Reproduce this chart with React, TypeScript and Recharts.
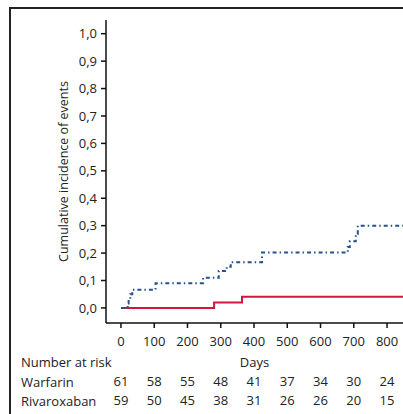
import React from 'react';
import { LineChart, Line, XAxis, YAxis } from 'recharts';

// step curves (day, cumulative incidence)
const warfarinDays = [0, 20, 23, 28, 34, 104, 247, 294, 318, 330, 424, 682, 688, 706, 712, 848];
const warfarinInc = [0, 0.016, 0.033, 0.05, 0.066, 0.09, 0.11, 0.135, 0.15, 0.167, 0.202, 0.222, 0.243, 0.27, 0.3, 0.3];
const rivaDays = [0, 280, 364, 848];
const rivaInc = [0, 0.02, 0.041, 0.041];

const dayTicks = [0, 100, 200, 300, 400, 500, 600, 700, 800];
const incTicks = [0, 0.1, 0.2, 0.3, 0.4, 0.5, 0.6, 0.7, 0.8, 0.9, 1.0];

// number at risk
const warfarinRisk = [61, 58, 55, 48, 41, 37, 34, 30, 24];
const rivaRisk = [59, 50, 45, 38, 31, 26, 26, 20, 15];

const warfarinData = warfarinDays.map((d, i) => ({ day: d, y: warfarinInc[i] }));
const rivaData = rivaDays.map((d, i) => ({ day: d, y: rivaInc[i] }));

const TXT = '#222';
const FS = 13;

function YLabel({ viewBox }: any) {
  const x = viewBox.x + 63;
  const y = viewBox.y + viewBox.height / 2;
  return (
    <text x={x} y={y} transform={`rotate(-90 ${x} ${y})`} textAnchor="middle" dominantBaseline="central" fill={TXT} fontSize={12.5}>
      Cumulative incidence of events
    </text>
  );
}

function DaysLabel({ viewBox }: any) {
  const y = viewBox.y + 39;
  return (
    <g>
      <text x={viewBox.x + viewBox.width / 2} y={y} textAnchor="middle" dominantBaseline="central" fill={TXT} fontSize={FS}>Days</text>
      <text x={21} y={y} textAnchor="start" dominantBaseline="central" fill={TXT} fontSize={FS}>Number at risk</text>
    </g>
  );
}

function RowLabel({ viewBox, text }: any) {
  return (
    <text x={21} y={viewBox.y + 11} textAnchor="start" dominantBaseline="central" fill={TXT} fontSize={FS}>{text}</text>
  );
}

const fmtInc = (v: number) => v.toFixed(1).replace('.', ',');

export default function App() {
  return (
    <div style={{ position: 'absolute', left: 0, top: 0, width: 403, height: 414, overflow: 'hidden', background: '#fff', fontFamily: '"Open Sans", sans-serif' }}>
      <div style={{ position: 'absolute', left: 9, top: 7, width: 420, height: 420, borderTop: '2px solid #222', borderLeft: '2px solid #222' }} />
      <div style={{ position: 'absolute', left: 0, top: 0 }}>
        <LineChart width={403} height={414} margin={{ top: 20, right: 0, left: 0, bottom: 5 }}>
          <YAxis
            type="number"
            domain={[-0.055, 1.05]}
            ticks={incTicks}
            tickFormatter={fmtInc}
            width={106}
            tickSize={5}
            tickMargin={4}
            allowDataOverflow
            stroke="#111"
            strokeWidth={1.5}
            tick={{ fill: TXT, fontSize: FS }}
            label={<YLabel />}
          />
          <XAxis
            dataKey="day"
            type="number"
            domain={[-45, 848]}
            ticks={dayTicks}
            height={48}
            tickSize={5}
            tickMargin={9}
            allowDataOverflow
            stroke="#111"
            strokeWidth={1.5}
            tick={{ fill: TXT, fontSize: FS }}
            label={<DaysLabel />}
          />
          <XAxis
            xAxisId="r2"
            dataKey="day"
            type="number"
            domain={[-45, 848]}
            ticks={dayTicks}
            tickFormatter={(v: number) => String(rivaRisk[dayTicks.indexOf(v)])}
            height={19}
            tickSize={0}
            tickMargin={6}
            axisLine={false}
            tickLine={false}
            allowDataOverflow
            tick={{ fill: TXT, fontSize: FS }}
            label={<RowLabel text="Rivaroxaban" />}
          />
          <XAxis
            xAxisId="r1"
            dataKey="day"
            type="number"
            domain={[-45, 848]}
            ticks={dayTicks}
            tickFormatter={(v: number) => String(warfarinRisk[dayTicks.indexOf(v)])}
            height={19}
            tickSize={0}
            tickMargin={6}
            axisLine={false}
            tickLine={false}
            allowDataOverflow
            tick={{ fill: TXT, fontSize: FS }}
            label={<RowLabel text="Warfarin" />}
          />
          <Line
            data={rivaData}
            dataKey="y"
            type="stepAfter"
            stroke="#d0163c"
            strokeWidth={2}
            dot={false}
            isAnimationActive={false}
          />
          <Line
            data={warfarinData}
            dataKey="y"
            type="stepAfter"
            stroke="#24528f"
            strokeWidth={2}
            strokeDasharray="4 3 1.5 3"
            dot={false}
            isAnimationActive={false}
          />
        </LineChart>
      </div>
    </div>
  );
}
